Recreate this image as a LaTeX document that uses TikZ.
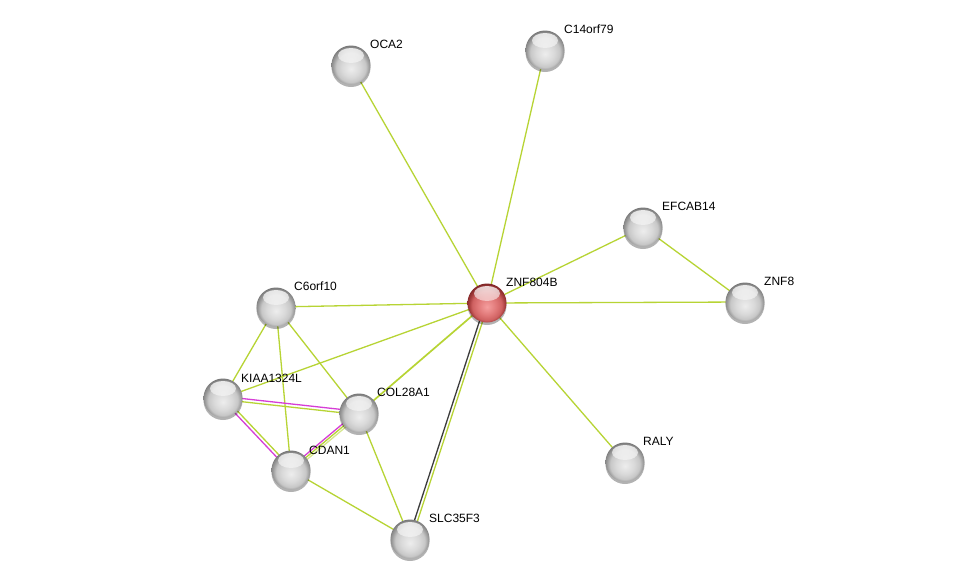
\documentclass[tikz,border=0pt]{standalone}
\usepackage{fontspec}
\setmainfont{Liberation Sans}
\usetikzlibrary{shadows,backgrounds,fadings}
\definecolor{tm}{RGB}{183,212,52}
\definecolor{tmlight}{RGB}{214,232,140}
\definecolor{ex}{RGB}{214,62,214}
\definecolor{co}{RGB}{60,60,60}
\pgfdeclareradialshading{sphgray}{\pgfpoint{0bp}{-5bp}}{rgb(0bp)=(0.93,0.93,0.93); rgb(12bp)=(0.85,0.85,0.85); rgb(19bp)=(0.78,0.78,0.78); rgb(23bp)=(0.62,0.62,0.62); rgb(28bp)=(0.45,0.45,0.45); rgb(50bp)=(0.42,0.42,0.42)}
\pgfdeclareradialshading{sphred}{\pgfpoint{0bp}{-5bp}}{rgb(0bp)=(0.96,0.62,0.62); rgb(12bp)=(0.88,0.47,0.47); rgb(19bp)=(0.81,0.38,0.38); rgb(23bp)=(0.65,0.24,0.24); rgb(28bp)=(0.47,0.13,0.13); rgb(50bp)=(0.42,0.10,0.10)}
\tikzset{
  prot/.style={circle, minimum size=39pt, inner sep=0pt, shading=sphgray,
    drop shadow={shadow xshift=0pt, shadow yshift=-2.5pt, opacity=0.3, fill=black},
    path picture={
      \fill[white, opacity=0.85, path fading=south] ([yshift=-10pt]path picture bounding box.north) ellipse (13pt and 7.5pt);
    }},
  query/.style={prot, shading=sphred},
  lab/.style={anchor=base west, inner sep=0pt, font=\fontsize{12}{14}\selectfont},
  edge/.style={draw=tm, line width=1.3pt},
  exedge/.style={draw=ex, line width=1.3pt},
  coedge/.style={draw=co, line width=1.3pt},
  ltedge/.style={draw=tmlight, line width=1.3pt}
}
\begin{document}
\begin{tikzpicture}[x=1pt,y=-1pt]
\useasboundingbox (0,0) rectangle (976,584);
\node[prot] (oca) at (351,65) {};
\node[prot] (c14) at (545,50) {};
\node[prot] (efc) at (643,227) {};
\node[prot] (znf8) at (745,302) {};
\node[query] (znf804) at (487,303) {};
\node[prot] (c6) at (276,307) {};
\node[prot] (kiaa) at (223,398) {};
\node[prot] (col) at (359,413) {};
\node[prot] (cdan) at (291,470) {};
\node[prot] (slc) at (410,539) {};
\node[prot] (raly) at (625,462) {};

\node[lab] (loca) at ([xshift=19pt,yshift=17pt]oca.center) {OCA2};
\node[lab] (lc14) at ([xshift=19pt,yshift=17pt]c14.center) {C14orf79};
\node[lab] (lefc) at ([xshift=19pt,yshift=17pt]efc.center) {EFCAB14};
\node[lab] (lznf8) at ([xshift=19pt,yshift=17pt]znf8.center) {ZNF8};
\node[lab] (lznf804) at ([xshift=19pt,yshift=17pt]znf804.center) {ZNF804B};
\node[lab] (lc6) at ([xshift=18pt,yshift=17pt]c6.center) {C6orf10};
\node[lab] (lkiaa) at ([xshift=18pt,yshift=16pt]kiaa.center) {KIAA1324L};
\node[lab] (lcol) at ([xshift=18pt,yshift=17pt]col.center) {COL28A1};
\node[lab] (lcdan) at ([xshift=18pt,yshift=16pt]cdan.center) {CDAN1};
\node[lab] (lslc) at ([xshift=19pt,yshift=17pt]slc.center) {SLC35F3};
\node[lab] (lraly) at ([xshift=18pt,yshift=17pt]raly.center) {RALY};

\begin{pgfonlayer}{background}
\fill[white] (0,0) rectangle (976,584);
\draw[edge] (oca.center) -- (znf804.center);
\draw[edge] (c14.center) -- (znf804.center);
\draw[edge] (efc.center) -- (znf804.center);
\draw[edge] (efc.center) -- (znf8.center);
\draw[edge] (znf8.center) -- (znf804.center);
\draw[edge] (c6.center) -- (znf804.center);
\draw[edge] (kiaa.center) -- (znf804.center);
\draw[edge, line width=1.7pt] (col.center) -- (znf804.center);
\draw[edge] (raly.center) -- (znf804.center);
\draw[coedge] ([xshift=-1.45pt,yshift=0.5pt]znf804.center) -- ([xshift=-1.45pt,yshift=0.5pt]slc.center);
\draw[edge] ([xshift=1.45pt,yshift=-0.5pt]znf804.center) -- ([xshift=1.45pt,yshift=-0.5pt]slc.center);
\draw[edge] (c6.center) -- (kiaa.center);
\draw[edge] (c6.center) -- (cdan.center);
\draw[edge] (c6.center) -- (col.center);
\draw[exedge] ([yshift=1.6pt]kiaa.center) -- ([yshift=1.6pt]col.center);
\draw[edge] ([yshift=-1.6pt]kiaa.center) -- ([yshift=-1.6pt]col.center);
\draw[exedge] ([xshift=-1.15pt,yshift=-1.1pt]kiaa.center) -- ([xshift=-1.15pt,yshift=-1.1pt]cdan.center);
\draw[edge] ([xshift=1.15pt,yshift=1.1pt]kiaa.center) -- ([xshift=1.15pt,yshift=1.1pt]cdan.center);
\draw[exedge] ([xshift=-1.4pt,yshift=1.7pt]cdan.center) -- ([xshift=-1.4pt,yshift=1.7pt]col.center);
\draw[edge] (cdan.center) -- (col.center);
\draw[ltedge] ([xshift=1.4pt,yshift=-1.7pt]cdan.center) -- ([xshift=1.4pt,yshift=-1.7pt]col.center);
\draw[edge] (cdan.center) -- (slc.center);
\draw[edge] (col.center) -- (slc.center);
\end{pgfonlayer}
\end{tikzpicture}
\end{document}
